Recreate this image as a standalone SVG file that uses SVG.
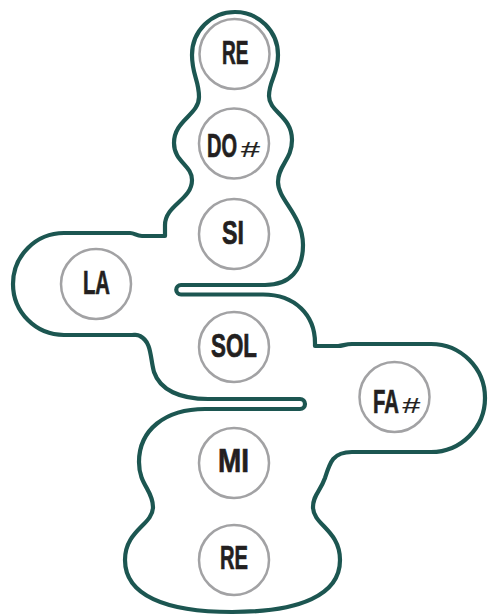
<svg xmlns="http://www.w3.org/2000/svg" width="489" height="616" viewBox="0 0 489 616">
  <style>
    .outline { fill: none; stroke: #1c5651; stroke-width: 4.2; stroke-linejoin: round; stroke-linecap: round; }
    .note circle { fill: #ffffff; stroke: #a2a2a4; stroke-width: 2.5; }
    .label { font-family: "Liberation Sans", Arial, sans-serif; font-weight: bold; font-size: 33px; fill: #231f20; stroke: #231f20; stroke-width: 0.7; }
    .sharp { font-family: "Liberation Sans", Arial, sans-serif; font-style: italic; font-weight: normal; font-size: 22px; fill: #231f20; stroke: #231f20; stroke-width: 0.2; }
  </style>
  <rect width="489" height="616" fill="#ffffff"/>

  <!-- single closed outline with two narrow slits -->
  <g id="connectors">
    <path class="outline" d="
      M 235 12
      A 43 43 0 0 1 278 55
      C 278 75, 269 80, 269 96
      C 269 112, 292 116, 292 140
      C 292 160, 278 165, 278 182
      C 278 200, 303 215, 303 245
      C 303 270, 290 285, 265 285
      L 181 285
      A 4.75 4.75 0 0 0 181 294.5
      L 263 294.5
      C 295 294.5, 315 315, 315 343
      L 315 346
      L 338 346
      C 343 346, 345 344, 352 344
      L 431 344
      A 54 54 0 0 1 431 452
      L 352 452
      C 333 452, 330 462, 325 478
      C 320 492, 313 495, 313 507
      C 313 525, 340 530, 340 560
      C 340 595, 300 612, 232 612
      C 165 612, 125 595, 125 560
      C 125 530, 153 525, 153 507
      C 153 490, 139 485, 139 462
      C 139 430, 165 409, 205 409
      L 300 409
      A 5 5 0 0 0 300 399
      L 208 399
      C 180 399, 160 390, 154 372
      C 150 358, 152 342, 140 336
      C 137 334, 135 335, 132 335
      L 64 335
      A 51 51 0 0 1 64 233
      L 130 233
      C 135 233, 136 236, 142 236
      L 165 236
      L 165 225
      C 165 205, 192 200, 192 180
      C 192 165, 174 162, 174 143
      C 174 120, 199 115, 199 97
      C 199 80, 192 75, 192 55
      A 43 43 0 0 1 235 12
      Z"/>
  </g>

  <!-- condensed labels: bold face narrowed horizontally -->
  <g id="re-high" class="note">
    <circle cx="234.5" cy="54" r="35"/>
    <text class="label" transform="translate(222 63.5) scale(0.578 1)">RE</text>
  </g>
  <g id="do-sharp" class="note">
    <circle cx="234" cy="143.5" r="35"/>
    <text class="label" transform="translate(207 157) scale(0.606 1)">DO</text>
    <text class="sharp" transform="translate(240.5 157) scale(1.55 1)">#</text>
  </g>
  <g id="si" class="note">
    <circle cx="234" cy="234" r="35"/>
    <text class="label" transform="translate(222 244) scale(0.705 1)">SI</text>
  </g>
  <g id="la" class="note">
    <circle cx="96" cy="284" r="35"/>
    <text class="label" transform="translate(83 294) scale(0.614 1)">LA</text>
  </g>
  <g id="sol" class="note">
    <circle cx="234" cy="347" r="35"/>
    <text class="label" transform="translate(211 357) scale(0.678 1)">SOL</text>
  </g>
  <g id="fa-sharp" class="note">
    <circle cx="394.5" cy="397" r="35"/>
    <text class="label" transform="translate(373 413) scale(0.614 1)">FA</text>
    <text class="sharp" transform="translate(402 413) scale(1.45 1)">#</text>
  </g>
  <g id="mi" class="note">
    <circle cx="234" cy="463" r="35"/>
    <text class="label" transform="translate(218 472) scale(0.846 1)">MI</text>
  </g>
  <g id="re-low" class="note">
    <circle cx="234" cy="560" r="35"/>
    <text class="label" transform="translate(220 569) scale(0.611 1)">RE</text>
  </g>
</svg>
